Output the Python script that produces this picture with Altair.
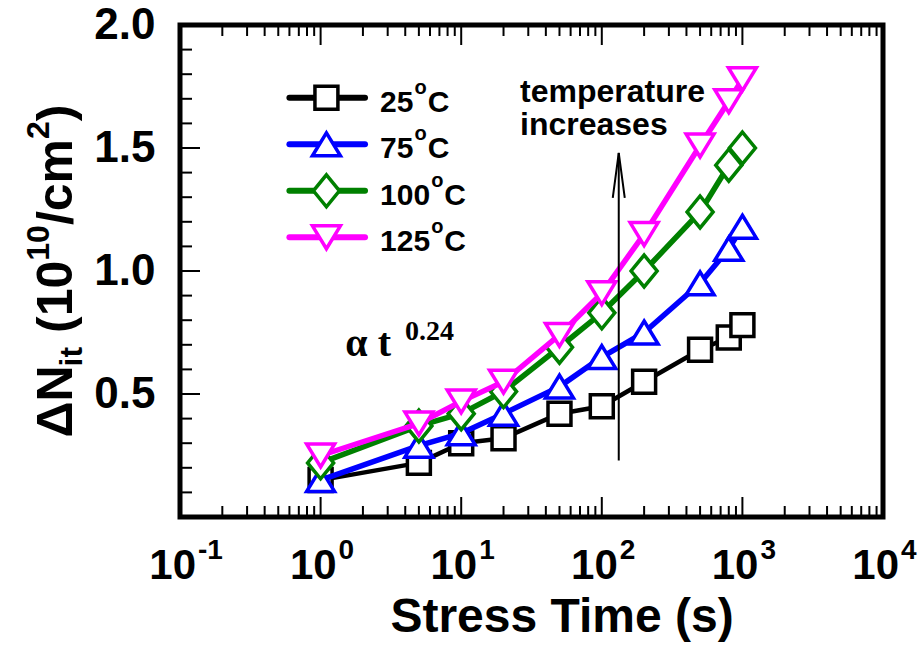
import altair as alt
import pandas as pd

# ---- measured interface-trap density vs. stress time -------------------
stress_time = [1, 5, 10, 20, 50, 100, 200, 500, 800, 1000]
dnit_25c = [0.15, 0.22, 0.30, 0.32, 0.42, 0.45, 0.55, 0.68, 0.73, 0.78]
dnit_75c = [0.15, 0.29, 0.34, 0.42, 0.53, 0.65, 0.75, 0.95, 1.09, 1.18]
dnit_100c = [0.22, 0.37, 0.42, 0.51, 0.69, 0.83, 1.00, 1.24, 1.43, 1.50]
dnit_125c = [0.25, 0.38, 0.47, 0.55, 0.74, 0.91, 1.15, 1.51, 1.69, 1.78]
temps = ["25", "75", "100", "125"]

# axis ticks
x_decades = [0.1, 1, 10, 100, 1000, 10000]
x_exponents = ["-1", "0", "1", "2", "3", "4"]
y_label_values = [0.5, 1.0, 1.5, 2.0]
y_major = [0.5, 1.0, 1.5]

# ---- styling -----------------------------------------------------------
W, H = 703, 492
FONT = "Liberation Sans"
SERIF = "Liberation Serif"
colors = ["#000000", "#0000FF", "#008000", "#FF00FF"]
shapes = [
    "M-0.82,-0.82L0.82,-0.82L0.82,0.82L-0.82,0.82Z",   # square
    "M0,-0.82L1,0.82L-1,0.82Z",                        # triangle up
    "M0,-1.14L0.93,0L0,1.14L-0.93,0Z",                 # diamond
    "M0,0.82L1,-0.82L-1,-0.82Z",                       # triangle down
]
MARKER_SIZE = 784

xs = alt.Scale(type="log", domain=[0.1, 10000])
ys = alt.Scale(domain=[0, 2.0])
color_scale = alt.Scale(domain=temps, range=colors)
shape_scale = alt.Scale(domain=temps, range=shapes)

y_axis = alt.Axis(
    values=y_label_values, format=".1f", ticks=False, domain=False, grid=False,
    labelFont=FONT, labelFontWeight="bold", labelFontSize=44, labelColor="black",
    labelPadding=25, labelFlush=False, labelOverlap=False, title=None,
)


def X(field):
    return alt.X(field, type="quantitative", scale=xs, axis=None)


def Y(field):
    return alt.Y(field, type="quantitative", scale=ys, axis=y_axis)


# ---- long-form series table ------------------------------------------
rows = []
for name, vals in zip(temps, [dnit_25c, dnit_75c, dnit_100c, dnit_125c]):
    for t, v in zip(stress_time, vals):
        rows.append({"series": name, "t": t, "v": v})
df = pd.DataFrame(rows)

layers = []

# ---- inward ticks on bottom, top and left --------------------------------
x_minor = [k * d for d in x_decades[:-1] for k in range(2, 10)]
y_minor = [i / 10 for i in range(1, 20) if i % 5]


def x_ticks(vals, y0, y1):
    return alt.Chart(pd.DataFrame({"t": vals})).mark_rule(
        color="black", strokeWidth=2
    ).encode(x=X("t"), y=alt.value(y0), y2=alt.value(y1))


def y_ticks(vals, length):
    return alt.Chart(pd.DataFrame({"v": vals})).mark_rule(
        color="black", strokeWidth=2
    ).encode(y=Y("v"), x=alt.value(0), x2=alt.value(length))


layers += [
    x_ticks(x_decades, H, H - 20),
    x_ticks(x_minor, H, H - 11),
    x_ticks(x_decades, 0, 20),
    x_ticks(x_minor, 0, 11),
    y_ticks(y_major, 20),
    y_ticks(y_minor, 12),
]

# ---- series: line under hollow markers, one temperature at a time --------
for name in temps:
    base = alt.Chart(df).transform_filter(alt.datum.series == name)
    layers.append(
        base.mark_line(strokeWidth=4.5 if name == "25" else 5.5,
                       strokeJoin="round").encode(
            x=X("t"), y=Y("v"),
            color=alt.Color("series:N", scale=color_scale, legend=None),
        )
    )
    layers.append(
        base.mark_point(
            filled=True, fill="white", opacity=1, strokeWidth=3.5, size=MARKER_SIZE
        ).encode(
            x=X("t"), y=Y("v"),
            stroke=alt.Stroke("series:N", scale=color_scale, legend=None),
            shape=alt.Shape("series:N", scale=shape_scale, legend=None),
        )
    )

# ---- "temperature increases" arrow --------------------------------------
arrow = pd.DataFrame({"t": [132], "v0": [0.23], "v1": [1.48]})
layers.append(
    alt.Chart(arrow).mark_rule(color="black", strokeWidth=2).encode(
        x=X("t"), y=Y("v0"), y2=alt.Y2("v1")
    )
)
layers.append(
    alt.Chart(arrow).mark_point(
        shape="M-1,7.5L0,0L1,7.5", size=144, filled=False, color="black",
        strokeWidth=2, opacity=1,
    ).encode(x=X("t"), y=Y("v1"))
)
note = pd.DataFrame({"t": [26.2, 26.2], "v": [1.688, 1.553],
                     "txt": ["temperature", "increases"]})
layers.append(
    alt.Chart(note).mark_text(
        font=FONT, fontWeight="bold", fontSize=32, align="left",
        baseline="alphabetic", color="black",
    ).encode(x=X("t"), y=Y("v"), text="txt:N")
)

# ---- power-law annotation -------------------------------------------------
layers.append(
    alt.Chart(pd.DataFrame({"t": [1.5], "v": [0.655], "txt": ["α t"]})).mark_text(
        font=SERIF, fontWeight="bold", fontSize=40, align="left",
        baseline="alphabetic", color="black",
    ).encode(x=X("t"), y=Y("v"), text="txt:N")
)
layers.append(
    alt.Chart(pd.DataFrame({"t": [3.98], "v": [0.72], "txt": ["0.24"]})).mark_text(
        font=SERIF, fontWeight="bold", fontSize=28, align="left",
        baseline="alphabetic", color="black",
    ).encode(x=X("t"), y=Y("v"), text="txt:N")
)

# ---- legend (upper left, inside the frame) ------------------------------
LEG_X0, LEG_X1, LEG_XM, LEG_XT = 0.6, 2.07, 1.1, 2.65
LEG_TOP, LEG_STEP = 1.704, 0.189
leg = pd.DataFrame({
    "series": temps,
    "v": [LEG_TOP - i * LEG_STEP for i in range(len(temps))],
    "t0": LEG_X0, "t1": LEG_X1, "tm": LEG_XM, "tt": LEG_XT,
    "digits": [len(s) for s in temps],
})
legc = alt.Chart(leg)
layers.append(
    legc.mark_rule(strokeWidth=6, strokeCap="round").encode(
        x=X("t0"), x2=alt.X2("t1"), y=Y("v"),
        color=alt.Color("series:N", scale=color_scale, legend=None),
    )
)
layers.append(
    legc.mark_point(
        filled=True, fill="white", opacity=1, strokeWidth=3.5, size=MARKER_SIZE
    ).encode(
        x=X("tm"), y=Y("v"),
        stroke=alt.Stroke("series:N", scale=color_scale, legend=None),
        shape=alt.Shape("series:N", scale=shape_scale, legend=None),
    )
)
LEG_FS, LEG_SUP = 30, 20
for nd in (2, 3):
    num_w = nd * 0.556 * LEG_FS
    sub = legc.transform_filter(alt.datum.digits == nd)
    layers.append(
        sub.mark_text(font=FONT, fontWeight="bold", fontSize=LEG_FS, align="left",
                      baseline="alphabetic", dy=14, color="black").encode(
            x=X("tt"), y=Y("v"), text="series:N")
    )
    layers.append(
        sub.mark_text(font=FONT, fontWeight="bold", fontSize=LEG_SUP, align="left",
                      baseline="alphabetic", dx=num_w + 1, dy=-4, color="black").encode(
            x=X("tt"), y=Y("v"), text=alt.value("o"))
    )
    layers.append(
        sub.mark_text(font=FONT, fontWeight="bold", fontSize=LEG_FS, align="left",
                      baseline="alphabetic", dx=num_w + 0.611 * LEG_SUP + 2, dy=14,
                      color="black").encode(
            x=X("tt"), y=Y("v"), text=alt.value("C"))
    )

# ---- x tick labels: "10" with raised exponent ---------------------------
xl = pd.DataFrame({"t": x_decades, "exp": x_exponents})
layers.append(
    alt.Chart(xl).mark_text(font=FONT, fontWeight="bold", fontSize=42, align="right",
                            baseline="alphabetic", dx=16, color="black").encode(
        x=X("t"), y=alt.value(H + 62), text=alt.value("10"))
)
layers.append(
    alt.Chart(xl).mark_text(font=FONT, fontWeight="bold", fontSize=28, align="left",
                            baseline="alphabetic", dx=18, color="black").encode(
        x=X("t"), y=alt.value(H + 42), text="exp:N")
)

# ---- axis titles ----------------------------------------------------------
layers.append(
    alt.Chart(pd.DataFrame({"a": [0]})).mark_text(
        font=FONT, fontWeight="bold", fontSize=48, align="center",
        baseline="alphabetic", color="black", text="Stress Time (s)",
    ).encode(x=alt.value(382), y=alt.value(H + 115))
)

# rotated y title, assembled from pieces (text, font size, baseline shift, gap before)
EM = {"Δ": 0.70, "N": 0.722, "i": 0.278, "t": 0.333, "(": 0.333,
      ")": 0.333, "1": 0.556, "0": 0.556, "/": 0.278, "c": 0.556, "m": 0.889,
      "2": 0.556}
MAIN, SCRIPT = 50, 32
title_parts = [("ΔN", MAIN, 0, 0), ("it", SCRIPT, 10, 0), ("(10", MAIN, 0, 0.278 * MAIN),
               ("10", SCRIPT, -23, 0), ("/cm", MAIN, 0, 0), ("2", SCRIPT, -23, 0),
               (")", MAIN, 0, 0)]
widths = [sum(EM[c] for c in s) * fs + gap for s, fs, _, gap in title_parts]
pos = H / 2 + sum(widths) / 2
TITLE_X = -108
for (s, fs, shift, gap), w in zip(title_parts, widths):
    pos -= gap
    layers.append(
        alt.Chart(pd.DataFrame({"a": [0]})).mark_text(
            font=FONT, fontWeight="bold", fontSize=fs, angle=270, align="left",
            baseline="alphabetic", color="black", text=s,
        ).encode(x=alt.value(TITLE_X + shift), y=alt.value(pos))
    )
    pos -= w - gap

chart = alt.layer(*layers).properties(
    width=W, height=H, background="white",
    padding={"left": 180, "top": 25, "right": 41, "bottom": 133},
    autosize=alt.AutoSizeParams(type="none"),
).configure_view(stroke="black", strokeWidth=5)

chart.save("out.html", embed_options={"renderer": "svg", "actions": False})
